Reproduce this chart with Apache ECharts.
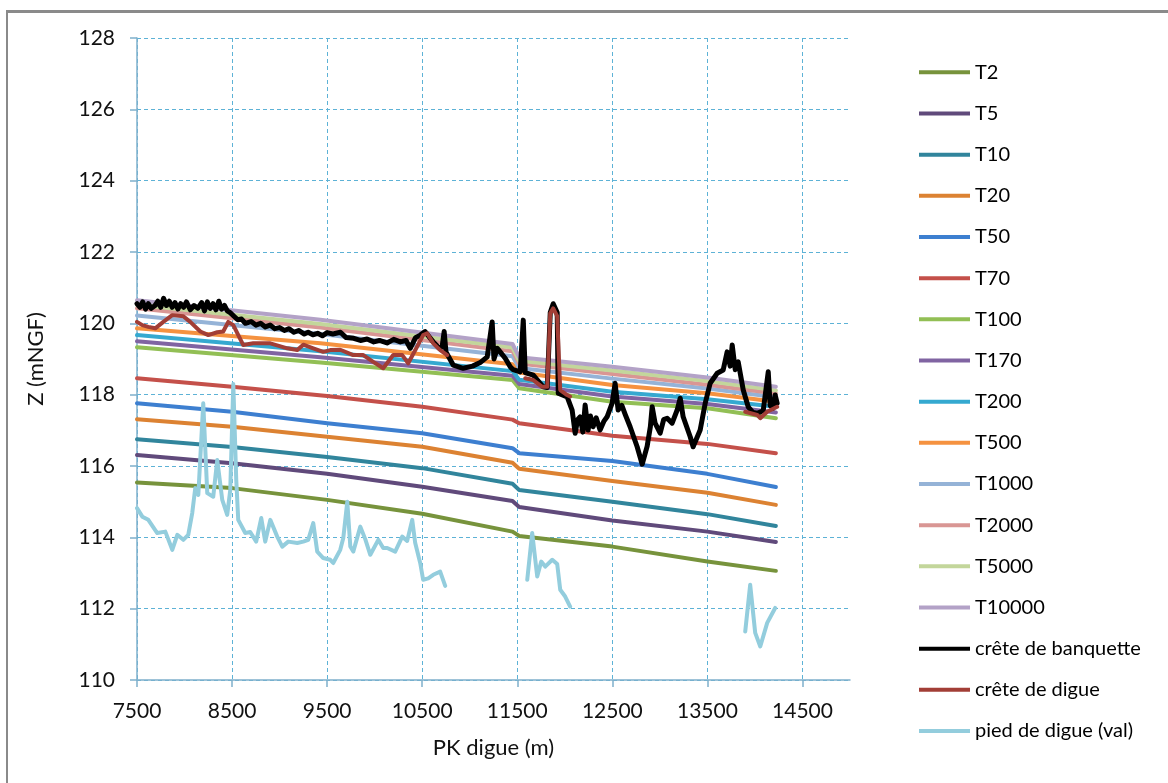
<!DOCTYPE html>
<html><head><meta charset="utf-8">
<script src="https://cdn.jsdelivr.net/npm/echarts@6/dist/echarts.min.js"></script>
<style>
html,body{margin:0;padding:0;background:#fff;overflow:hidden;}
#frame{position:absolute;left:6px;top:10px;width:1200px;height:800px;border-left:2px solid #8a8a8a;border-top:3px solid #8a8a8a;}
#chart{position:absolute;left:0;top:0;width:1168px;height:783px;}
</style></head><body>
<div id="frame"></div>
<div id="chart"></div>
<script>
// ---- data ----
const xTickLabels = [7500, 8500, 9500, 10500, 11500, 12500, 13500, 14500];
const xUpper = [7500, 9430, 11450, 11520, 12500, 13500, 14220];
const t10000 = [120.65, 120.10, 119.42, 119.05, 118.78, 118.48, 118.22];
const t5000  = [120.52, 119.98, 119.32, 118.95, 118.68, 118.38, 118.12];
const t2000  = [120.42, 119.88, 119.22, 118.87, 118.58, 118.28, 118.03];
const t1000  = [120.22, 119.70, 119.08, 118.75, 118.45, 118.17, 117.93];
const t500   = [119.86, 119.44, 118.85, 118.62, 118.27, 118.04, 117.80];
const t200   = [119.67, 119.22, 118.66, 118.42, 118.08, 117.87, 117.66];
const t170   = [119.50, 119.05, 118.53, 118.30, 117.95, 117.74, 117.50];
const t100   = [119.33, 118.90, 118.41, 118.18, 117.80, 117.62, 117.34];

const xLower = [7500, 8500, 9500, 10500, 11450, 11520, 12500, 13500, 14220];
const t70 = [118.46, 118.22, 117.96, 117.66, 117.30, 117.20, 116.85, 116.62, 116.36];
const t50 = [117.76, 117.52, 117.20, 116.92, 116.50, 116.36, 116.14, 115.78, 115.41];
const t20 = [117.31, 117.10, 116.82, 116.54, 116.09, 115.92, 115.58, 115.25, 114.91];
const t10 = [116.75, 116.53, 116.25, 115.94, 115.50, 115.33, 115.00, 114.65, 114.32];
const t5  = [116.31, 116.08, 115.78, 115.42, 115.02, 114.85, 114.47, 114.16, 113.87];
const t2  = [115.54, 115.38, 115.05, 114.66, 114.16, 114.04, 113.74, 113.32, 113.06];

const creteBanquette = [[7500,120.55],[7530,120.45],[7560,120.6],[7590,120.4],[7620,120.55],[7650,120.42],[7690,120.5],[7720,120.62],[7750,120.45],[7780,120.7],[7810,120.5],[7840,120.62],[7870,120.45],[7900,120.58],[7930,120.4],[7960,120.55],[7990,120.45],[8020,120.6],[8060,120.38],[8100,120.5],[8140,120.42],[8180,120.58],[8210,120.35],[8240,120.6],[8270,120.42],[8300,120.55],[8330,120.38],[8360,120.62],[8390,120.4],[8420,120.5],[8450,120.35],[8480,120.3],[8520,120.2],[8560,120.1],[8600,120.12],[8640,120.0],[8700,120.05],[8750,119.95],[8800,120.0],[8850,119.9],[8900,119.95],[8950,119.85],[9000,119.88],[9050,119.8],[9100,119.85],[9150,119.75],[9200,119.8],[9260,119.7],[9300,119.75],[9350,119.68],[9400,119.72],[9450,119.65],[9500,119.74],[9560,119.7],[9640,119.75],[9700,119.6],[9780,119.58],[9850,119.52],[9920,119.56],[9990,119.48],[10050,119.52],[10130,119.45],[10200,119.55],[10270,119.48],[10330,119.52],[10374,119.3],[10430,119.6],[10480,119.67],[10530,119.77],[10580,119.6],[10616,119.48],[10680,119.3],[10710,119.35],[10731,119.77],[10750,119.2],[10826,118.83],[10931,118.74],[11030,118.8],[11110,118.9],[11184,119.06],[11236,120.04],[11255,119.0],[11290,119.3],[11320,119.2],[11373,119.02],[11426,118.78],[11457,118.7],[11531,118.64],[11563,120.09],[11584,118.62],[11668,118.55],[11730,118.35],[11773,118.22],[11815,118.2],[11847,120.3],[11878,120.55],[11920,120.3],[11931,118.04],[12025,117.94],[12077,117.57],[12109,116.92],[12135,117.3],[12161,117.38],[12190,116.95],[12214,117.71],[12245,117.01],[12270,117.4],[12298,117.1],[12330,117.35],[12371,117.01],[12410,117.25],[12445,117.38],[12498,117.76],[12529,118.32],[12561,117.57],[12600,117.7],[12635,117.45],[12687,117.1],[12761,116.54],[12814,116.05],[12866,116.55],[12900,117.1],[12919,117.66],[12950,117.2],[13003,116.92],[13040,117.3],[13077,117.34],[13129,117.2],[13182,117.57],[13214,117.9],[13245,117.38],[13319,116.82],[13350,116.54],[13424,117.01],[13477,117.76],[13529,118.32],[13603,118.6],[13666,118.69],[13708,119.2],[13740,118.8],[13761,119.39],[13793,118.7],[13824,118.92],[13877,118.13],[13929,117.66],[13980,117.5],[14024,117.48],[14087,117.55],[14140,118.64],[14160,117.7],[14190,117.62],[14213,117.99],[14234,117.76]];

const creteDigue = [[7500,120.04],[7556,119.95],[7619,119.9],[7692,119.86],[7777,120.04],[7871,120.23],[7987,120.2],[8060,120.04],[8166,119.77],[8250,119.67],[8344,119.75],[8407,119.77],[8460,120.04],[8513,119.95],[8618,119.39],[8723,119.44],[8902,119.44],[9081,119.3],[9186,119.25],[9249,119.4],[9354,119.3],[9459,119.2],[9533,119.25],[9638,119.26],[9775,119.11],[9880,119.11],[9985,118.92],[10090,118.74],[10195,119.11],[10290,119.11],[10353,118.88],[10447,119.35],[10510,119.67],[10552,119.72],[10616,119.44],[10689,119.25],[10763,119.11],[11200,null],[11584,118.46],[11668,118.41],[11762,118.22],[11815,118.22],[11847,120.28],[11878,120.42],[11920,120.2],[11952,118.13],[12025,117.99],[12056,117.95],[13000,null],[13898,117.52],[14024,117.43],[14056,117.34],[14129,117.52],[14234,117.66]];

const piedDigue = [[7500,114.82],[7556,114.58],[7619,114.49],[7713,114.12],[7798,114.16],[7871,113.65],[7924,114.07],[7987,113.93],[8039,114.07],[8081,114.68],[8113,115.38],[8145,115.19],[8197,117.76],[8239,115.24],[8302,115.14],[8344,116.17],[8397,115.05],[8449,114.63],[8481,115.33],[8513,118.3],[8544,115.61],[8565,114.49],[8639,114.12],[8691,114.15],[8754,113.88],[8807,114.54],[8849,113.88],[8902,114.49],[8975,114.02],[9028,113.74],[9091,113.88],[9186,113.84],[9249,113.88],[9301,113.93],[9354,114.4],[9396,113.6],[9459,113.42],[9533,113.37],[9564,113.28],[9638,113.65],[9670,113.98],[9712,115.0],[9744,113.74],[9775,113.6],[9849,114.3],[9901,113.95],[9954,113.51],[10038,113.93],[10090,113.7],[10132,113.7],[10216,113.6],[10290,114.02],[10342,113.9],[10395,114.49],[10426,113.85],[10479,113.28],[10510,112.81],[10563,112.85],[10616,112.95],[10689,113.04],[10742,112.64],[11100,null],[11605,112.81],[11657,114.12],[11710,112.9],[11752,113.32],[11794,113.18],[11868,113.37],[11920,113.25],[11952,112.53],[12004,112.34],[12056,112.06],[13000,null],[13898,111.36],[13950,112.67],[14003,111.32],[14056,110.94],[14129,111.6],[14213,112.02]];

const seriesNames = ['T2','T5','T10','T20','T50','T70','T100','T170','T200','T500','T1000','T2000','T5000','T10000','crête de banquette','crête de digue','pied de digue (val)'];
const seriesColors = ['#77933C','#604A7B','#31859C','#DC8232','#3D7FD0','#C4504A','#92BF55','#8064A2','#35A9D0','#F59240','#95B3D7','#D99694','#C3D69B','#B3A2C7','#000000','#A23E36','#93CDDD'];

// ---- build ----
function zip(xs, ys){ return xs.map((x,i)=>[x, ys[i]]); }
const seriesData = [
  zip(xLower,t2), zip(xLower,t5), zip(xLower,t10), zip(xLower,t20), zip(xLower,t50), zip(xLower,t70),
  zip(xUpper,t100), zip(xUpper,t170), zip(xUpper,t200), zip(xUpper,t500), zip(xUpper,t1000),
  zip(xUpper,t2000), zip(xUpper,t5000), zip(xUpper,t10000),
  creteBanquette, creteDigue, piedDigue
];
const FONT = 'Lato, "Open Sans", sans-serif';
const axisBlue = '#7FB0CC';
const gridBlue = '#5DB2D6';

const chart = echarts.init(document.getElementById('chart'), null, {renderer:'canvas'});
chart.setOption({
  animation: false,
  textStyle: {fontFamily: FONT},
  grid: {left: 137, top: 38, width: 713, height: 642, containLabel: false},
  legend: {
    orient: 'vertical', left: 919, top: 62.3, padding: 0,
    itemWidth: 51, itemHeight: 4, itemGap: 21.17, icon: 'rect',
    textStyle: {fontFamily: FONT, fontSize: 20, color: '#000', lineHeight: 20},
    data: seriesNames
  },
  xAxis: {
    type: 'value', min: 7500, max: 15000, interval: 500,
    name: 'PK digue (m)', nameLocation: 'middle', nameGap: 57,
    nameTextStyle: {fontFamily: FONT, fontSize: 22, color: '#111'},
    axisLine: {show: true, lineStyle: {color: axisBlue, width: 1.5}},
    axisTick: {show: true, length: 7, customValues: xTickLabels, lineStyle: {color: axisBlue, width: 1.5}},
    axisLabel: {customValues: xTickLabels, margin: 21, fontSize: 21, color: '#111', fontFamily: FONT,
      formatter: v => String(v)},
    splitLine: {show: true, lineStyle: {color: gridBlue, type: [4, 3], width: 1}}
  },
  yAxis: {
    type: 'value', min: 110, max: 128, interval: 2,
    name: 'Z (mNGF)', nameLocation: 'middle', nameGap: 90, nameRotate: 90,
    nameTextStyle: {fontFamily: FONT, fontSize: 22, color: '#111'},
    axisLine: {show: true, lineStyle: {color: axisBlue, width: 1.5}},
    axisTick: {show: true, length: 7, lineStyle: {color: axisBlue, width: 1.5}},
    axisLabel: {margin: 22, fontSize: 21, color: '#111', fontFamily: FONT, formatter: v => String(v)},
    splitLine: {show: true, lineStyle: {color: gridBlue, type: [4, 3], width: 1}}
  },
  series: seriesNames.map((n, i) => ({
    name: n, type: 'line', data: seriesData[i], showSymbol: false, symbol: 'none',
    connectNulls: false, smooth: false,
    color: seriesColors[i],
    lineStyle: {color: seriesColors[i], width: i === 14 ? 5 : 4, cap: 'round', join: 'round'},
    itemStyle: {color: seriesColors[i]}
  }))
});
</script>
</body></html>
